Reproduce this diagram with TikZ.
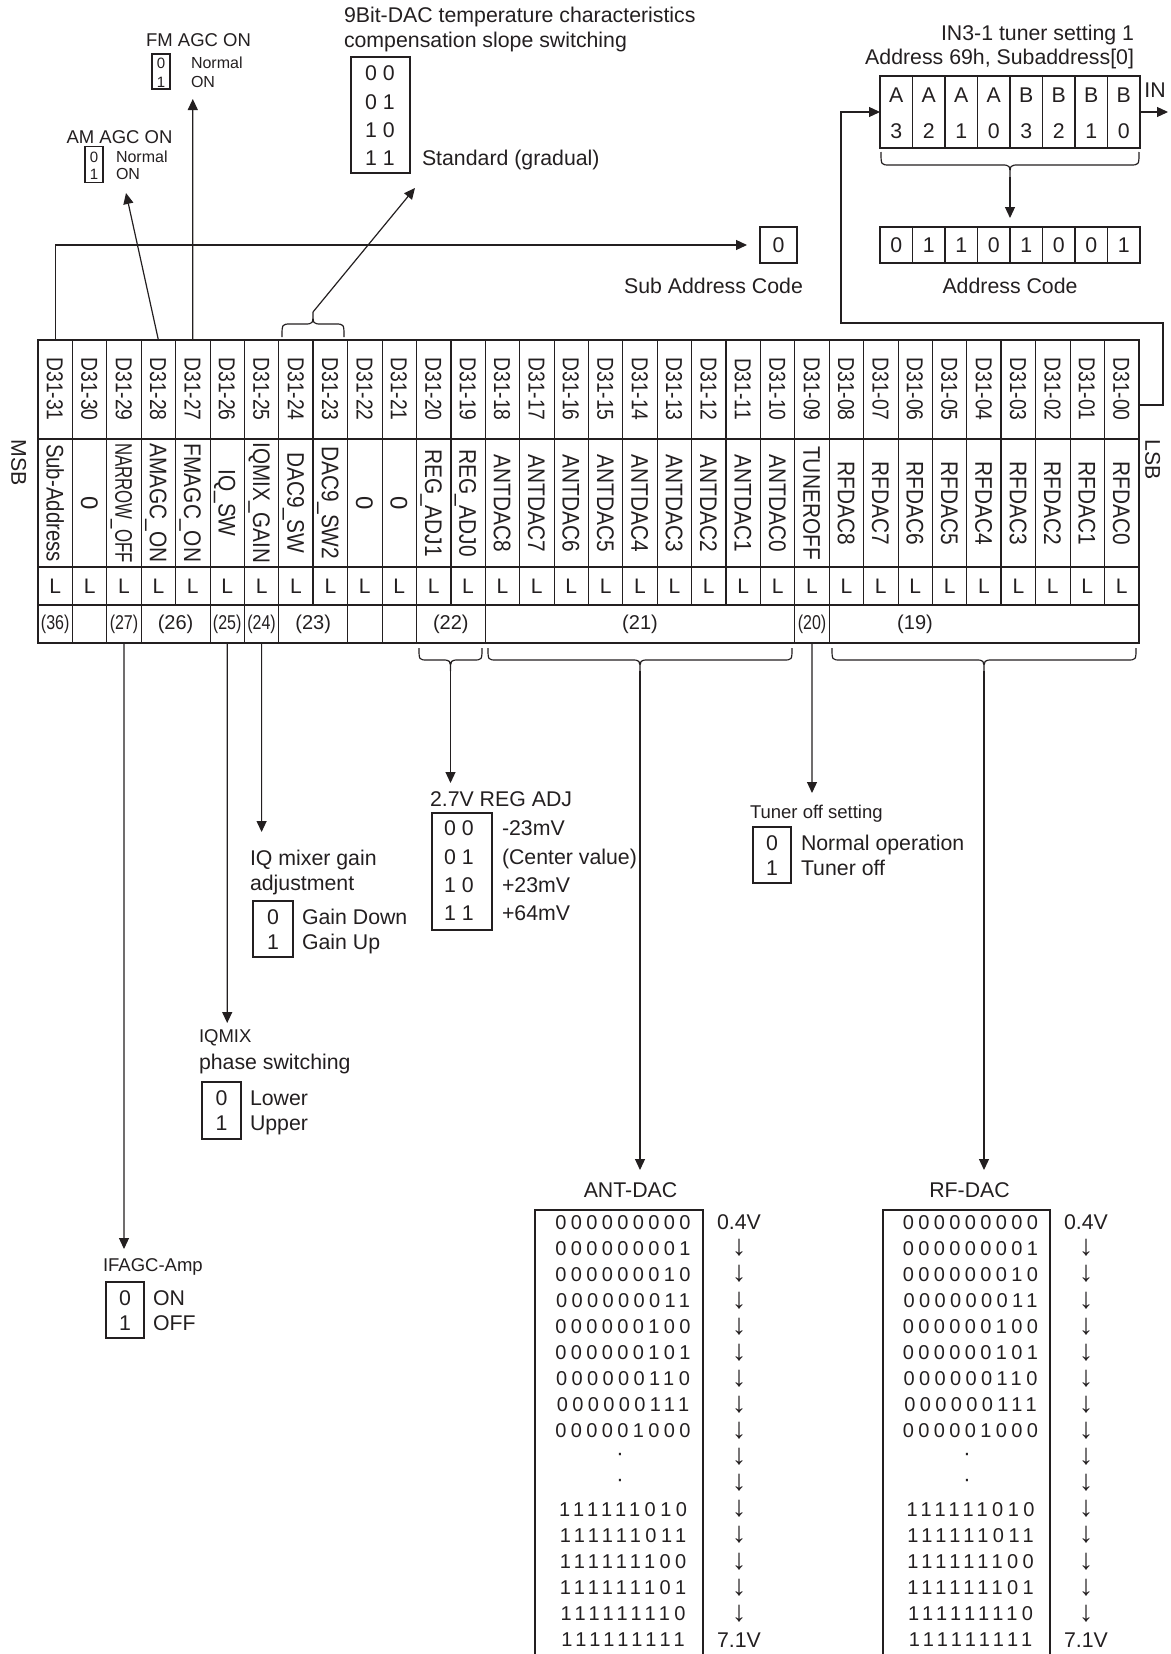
\documentclass[tikz,border=0pt]{standalone}
\usepackage{fontspec}
\usepackage{graphicx}
\setmainfont{Liberation Sans}
\newfontfamily\binfont[LetterSpace=22]{Liberation Sans}
\usetikzlibrary{arrows.meta}
\definecolor{ink}{RGB}{35,31,32}
\newcommand\mybrace[5]{%
  \draw[conn] (#1,#3) .. controls (#1,#4) .. ({#1+9},#4) -- ({(#1+#2)/2-9},#4)
    .. controls ({(#1+#2)/2},#4) .. ({(#1+#2)/2},#5)
    .. controls ({(#1+#2)/2},#4) .. ({(#1+#2)/2+9},#4) -- ({#2-9},#4)
    .. controls (#2,#4) .. (#2,#3);}
\tikzset{
  every node/.style={inner sep=0pt, outer sep=0pt},
  T/.style={font=\fontsize{21.3}{25}\selectfont, text height=15.3pt, text depth=0pt},
  Tm/.style={font=\fontsize{18.5}{22}\selectfont, text height=13.3pt, text depth=0pt},
  Ts/.style={font=\fontsize{16}{19}\selectfont, text height=11.5pt, text depth=0pt},
  Tk/.style={font=\fontsize{15}{18}\selectfont, text height=10.7pt, text depth=0pt},
  hd/.style={rotate=-90, font=\fontsize{23}{26}\selectfont, text height=16.5pt, text depth=0pt},
  nm/.style={rotate=-90, font=\fontsize{24}{27}\selectfont, text height=17.2pt, text depth=0pt},
  lrow/.style={font=\fontsize{21}{24}\selectfont, text height=15pt, text depth=0pt},
  prow/.style={font=\fontsize{20}{24}\selectfont},
  bin/.style={font=\binfont\fontsize{20}{24}\selectfont, text height=14.3pt, text depth=0pt},
  dotf/.style={font=\fontsize{22}{24}\selectfont},
  dn/.style={font=\fontsize{29}{32}\selectfont},
  boxd/.style={draw=ink, line width=1.2pt},
  conn/.style={draw=ink, line width=1.2pt},
  arr/.style={conn, -{Triangle[length=11pt,width=10pt]}},
}
\begin{document}
\begin{tikzpicture}[x=1pt,y=-1pt,color=ink]
\useasboundingbox (0,0) rectangle (1170,1654);

% ---------------- main register table ----------------
\foreach \i in {0,...,31}{
  \pgfmathtruncatemacro\bt{31-\i}
  \pgfmathsetmacro\cx{38+(\i+0.5)*34.4}
  \node[minimum width=34.4pt, minimum height=303pt] (b\bt) at (\cx,491.5) {};
  \node[hd] (h\bt) at (\cx,389) {\scalebox{0.84}[1]{D31-\ifnum\bt<10 0\fi\bt}};
  \node[lrow] (l\bt) at (\cx,586) {L};
}
\foreach \nmx/\sc [count=\i from 0] in {Sub-Address/0.85, 0/1, NARROW\_OFF/0.7, AMAGC\_ON/0.87,
   FMAGC\_ON/0.87, IQ\_SW/0.87, IQMIX\_GAIN/0.86, DAC9\_SW/0.87, DAC9\_SW2/0.87, 0/1, 0/1,
   REG\_ADJ1/0.87, REG\_ADJ0/0.87, ANTDAC8/0.87, ANTDAC7/0.87, ANTDAC6/0.87, ANTDAC5/0.87,
   ANTDAC4/0.87, ANTDAC3/0.87, ANTDAC2/0.87, ANTDAC1/0.87, ANTDAC0/0.87, TUNEROFF/0.87,
   RFDAC8/0.87, RFDAC7/0.87, RFDAC6/0.87, RFDAC5/0.87, RFDAC4/0.87, RFDAC3/0.87, RFDAC2/0.87,
   RFDAC1/0.87, RFDAC0/0.87}{
  \pgfmathtruncatemacro\bt{31-\i}
  \node[nm] (n\bt) at ({38+(\i+0.5)*34.4},503) {\scalebox{\sc}[1]{\nmx}};
}
% grid
\foreach \yy in {439,567,605} \draw[line width=1.7pt] (38,\yy) -- (1138.8,\yy);
\foreach \k in {1,...,31}{
  \pgfmathsetmacro\xx{38+\k*34.4}
  \pgfmathtruncatemacro\md{mod(\k,4)}
  \ifnum\md=0 \draw[line width=1.7pt] (\xx,340) -- (\xx,605);
  \else \draw[line width=0.8pt] (\xx,340) -- (\xx,605); \fi
}
\foreach \k in {1,2,3,5,6,7,9,10,11,13,22,23}
  \draw[line width=0.8pt] ({38+\k*34.4},605) -- ({38+\k*34.4},643);
\draw[line width=2pt] (38,340) rectangle (1138.8,643);
% row 4 group numbers
\node[prow] (p36) at (55.2,624) {\scalebox{0.8}[1]{(36)}};
\node[prow] (p27) at (124,624) {\scalebox{0.8}[1]{(27)}};
\node[prow] (p26) at (175.6,624) {(26)};
\node[prow] (p25) at (227.2,624) {\scalebox{0.8}[1]{(25)}};
\node[prow] (p24) at (261.6,624) {\scalebox{0.8}[1]{(24)}};
\node[prow] (p23) at (313.2,624) {(23)};
\node[prow] (p22) at (450.8,624) {(22)};
\node[prow] (p21) at (640,624) {(21)};
\node[prow] (p20) at (812,624) {\scalebox{0.8}[1]{(20)}};
\node[prow] (p19) at (915,624) {(19)};
\node[T, rotate=-90] (msb) at (19,463) {MSB};
\node[T, rotate=-90] (lsb) at (1153,460) {LSB};

% ---------------- AM / FM AGC ----------------
\node[Tm] (fmT) at (198.5,40) {FM AGC ON};
\node[boxd, minimum width=18pt, minimum height=35pt] (fmB) at (161,71.5) {};
\node[Tk] (fm0) at (161,63) {0};
\node[Tk] (fm1) at (161,82) {1};
\node[Ts, anchor=west] (fmN) at (191,63) {Normal};
\node[Ts, anchor=west] (fmO) at (191,82) {ON};
\node[Tm] (amT) at (119.5,137) {AM AGC ON};
\node[boxd, minimum width=18pt, minimum height=36pt] (amB) at (94,164.5) {};
\node[Tk] (am0) at (94,157) {0};
\node[Tk] (am1) at (94,174) {1};
\node[Ts, anchor=west] (amN) at (116,157) {Normal};
\node[Ts, anchor=west] (amO) at (116,174) {ON};
\coordinate (amE) at (126,193);
\coordinate (fmE) at (192.8,99);
\draw[arr] (b28.north) -- (amE);
\draw[arr] (b27.north) -- (fmE);

% ---------------- 9Bit DAC ----------------
\node[T, anchor=west] (nbT1) at (344,15) {9Bit-DAC temperature characteristics};
\node[T, anchor=west] (nbT2) at (344,40) {compensation slope switching};
\node[boxd, minimum width=59pt, minimum height=116pt] (nbB) at (380.5,115) {};
\foreach \v/\yy [count=\j] in {0 0/73, 0 1/102, 1 0/130, 1 1/158}
  \node[T] (nbr\j) at (380,\yy) {\v};
\node[T, anchor=west] (nbS) at (422,158) {Standard (gradual)};
\mybrace{282}{344}{337}{324}{312}
\coordinate (bt9) at (313,312);
\coordinate (nbE) at (415,188);
\draw[arr] (bt9) -- (nbE);

% ---------------- sub address ----------------
\node[boxd, minimum width=37pt, minimum height=36pt] (sub0) at (778.5,245) {};
\node[T] (sub0t) at (778.5,245) {0};
\node[T] (subT) at (713.5,286) {Sub Address Code};
\draw[arr, shorten >=13pt] (b31.north) |- (sub0.west);

% ---------------- tuner address ----------------
\node[T, anchor=east] (inT1) at (1134,33) {IN3-1 tuner setting 1};
\node[T, anchor=east] (inT2) at (1134,57) {Address 69h, Subaddress[0]};
\node[boxd, minimum width=260pt, minimum height=72pt] (inB) at (1010,112) {};
\foreach \j in {1,...,7} \draw[line width=1.2pt] ({880+32.5*\j},76) -- ({880+32.5*\j},148);
\foreach \c/\d [count=\j from 0] in {A/3,A/2,A/1,A/0,B/3,B/2,B/1,B/0}{
  \node[T] (inc\j) at ({880+32.5*(\j+0.5)},95) {\c};
  \node[T] (ind\j) at ({880+32.5*(\j+0.5)},131) {\d};
}
\node[T] (inL) at (1155,90) {IN};
\coordinate (inE) at (1168,112);
\draw[arr] (inB.east) -- (inE);
\mybrace{881}{1139}{152}{165}{177}
\coordinate (btA) at (1010,177);
\node[boxd, minimum width=260pt, minimum height=36pt] (adB) at (1010,245) {};
\foreach \j in {1,...,7} \draw[line width=1.2pt] ({880+32.5*\j},227) -- ({880+32.5*\j},263);
\foreach \d [count=\j from 0] in {0,1,1,0,1,0,0,1}
  \node[T] (add\j) at ({880+32.5*(\j+0.5)},245) {\d};
\node[T] (adT) at (1010,286) {Address Code};
\draw[arr, shorten >=9pt] (btA) -- (adB.north);
\coordinate (lsbO) at (1138.8,405);
\draw[arr] (lsbO) -- (1163,405) -- (1163,323) -- (841,323) |- (inB.west);

% ---------------- lower braces and arrows ----------------
\mybrace{419}{482}{648}{660}{671}
\mybrace{488}{792}{648}{660}{671}
\mybrace{832}{1136}{648}{660}{671}
\coordinate (bt22) at (450.5,671);
\coordinate (bt21) at (640,671);
\coordinate (bt19) at (984,671);
\coordinate (e22) at (450.5,783);
\coordinate (e21) at (640,1170);
\coordinate (e19) at (984,1170);
\coordinate (e20) at (812,793);
\coordinate (e25) at (261.6,832);
\coordinate (e26) at (227.2,1023);
\coordinate (e29) at (124,1249);
\draw[arr] (bt22) -- (e22);
\draw[arr] (bt21) -- (e21);
\draw[arr] (bt19) -- (e19);
\draw[arr] (b9.south) -- (e20);
\draw[arr] (b25.south) -- (e25);
\draw[arr] (b26.south) -- (e26);
\draw[arr] (b29.south) -- (e29);

% REG ADJ
\node[T, anchor=west] (rgT) at (430,799) {2.7V REG ADJ};
\node[boxd, minimum width=60pt, minimum height=117pt] (rgB) at (462,871.5) {};
\foreach \v/\w/\yy [count=\j] in {0 0/-23mV/828, 0 1/(Center value)/857, 1 0/+23mV/885, 1 1/+64mV/913}{
  \node[T] (rgv\j) at (459,\yy) {\v};
  \node[T, anchor=west] (rgw\j) at (502,\yy) {\w};
}
% IQ mixer gain
\node[T, anchor=west] (iqT1) at (250,858) {IQ mixer gain};
\node[T, anchor=west] (iqT2) at (250,883) {adjustment};
\node[boxd, minimum width=40pt, minimum height=56pt] (iqB) at (273,929) {};
\node[T] (iq0) at (273,917) {0};
\node[T] (iq1) at (273,942) {1};
\node[T, anchor=west] (iqD) at (302,917) {Gain Down};
\node[T, anchor=west] (iqU) at (302,942) {Gain Up};
% IQMIX phase
\node[Tm, anchor=west] (phT1) at (199,1036) {IQMIX};
\node[T, anchor=west] (phT2) at (199,1062) {phase switching};
\node[boxd, minimum width=39pt, minimum height=57pt] (phB) at (221.5,1110.5) {};
\node[T] (ph0) at (221.5,1098) {0};
\node[T] (ph1) at (221.5,1123) {1};
\node[T, anchor=west] (phL) at (250,1098) {Lower};
\node[T, anchor=west] (phU) at (250,1123) {Upper};
% Tuner off
\node[Tm, anchor=west] (tuT) at (750,812) {Tuner off setting};
\node[boxd, minimum width=38pt, minimum height=56pt] (tuB) at (772,855) {};
\node[T] (tu0) at (772,843) {0};
\node[T] (tu1) at (772,868) {1};
\node[T, anchor=west] (tuN) at (801,843) {Normal operation};
\node[T, anchor=west] (tuO) at (801,868) {Tuner off};
% IFAGC
\node[Tm, anchor=west] (ifT) at (103,1265) {IFAGC-Amp};
\node[boxd, minimum width=38pt, minimum height=56pt] (ifB) at (125,1310) {};
\node[T] (if0) at (125,1298) {0};
\node[T] (if1) at (125,1323) {1};
\node[T, anchor=west] (ifN) at (153,1298) {ON};
\node[T, anchor=west] (ifF) at (153,1323) {OFF};

% ---------------- DAC tables ----------------
\node[T] (antT) at (630.5,1190) {ANT-DAC};
\node[T] (rfT) at (969.5,1190) {RF-DAC};
\draw[line width=1.2pt] (535,1654) -- (535,1210) -- (703,1210) -- (703,1654);
\draw[line width=1.2pt] (883,1654) -- (883,1210) -- (1050,1210) -- (1050,1654);
\foreach \s/\k in {000000000/0,000000001/1,000000010/2,000000011/3,000000100/4,000000101/5,
   000000110/6,000000111/7,000001000/8,111111010/11,111111011/12,111111100/13,111111101/14,
   111111110/15,111111111/16}{
  \node[bin] (ab\k) at (623,{1222+26.1*\k}) {\s};
  \node[bin] (rb\k) at (970.5,{1222+26.1*\k}) {\s};
}
\foreach \k in {9,10}{
  \node[dotf] (ab\k) at (620,{1222+26.1*\k}) {·};
  \node[dotf] (rb\k) at (967,{1222+26.1*\k}) {·};
}
\foreach \k in {1,...,15}{
  \node[dn] (aa\k) at (739,{1222+26.1*\k}) {↓};
  \node[dn] (ra\k) at (1086,{1222+26.1*\k}) {↓};
}
\node[T] (av0) at (739,1222) {0.4V};
\node[T] (av1) at (739,1639.6) {7.1V};
\node[T] (rv0) at (1086,1222) {0.4V};
\node[T] (rv1) at (1086,1639.6) {7.1V};
\end{tikzpicture}
\end{document}
